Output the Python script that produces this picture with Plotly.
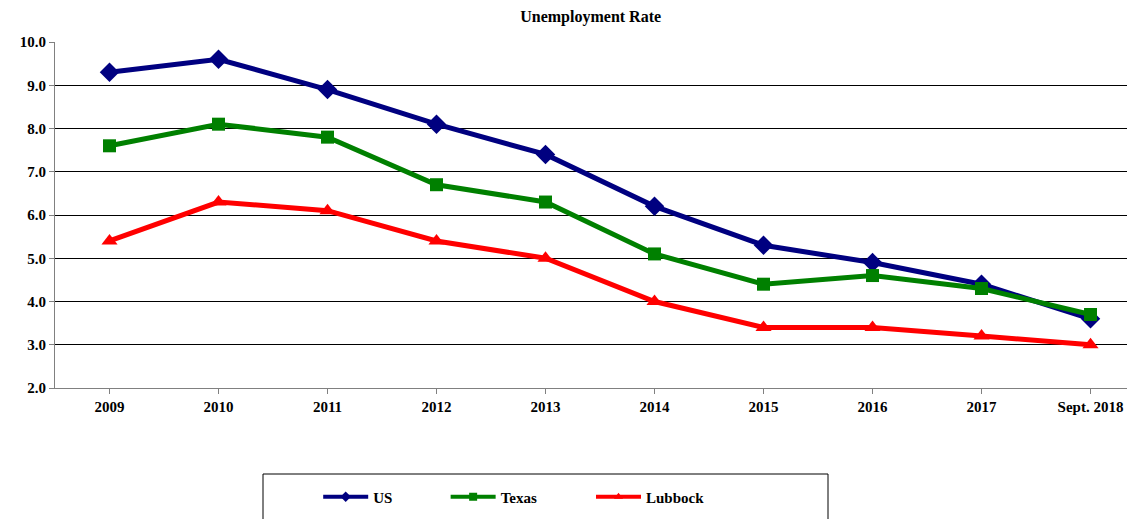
import plotly.graph_objects as go

# Chart data
YEARS = ["2009", "2010", "2011", "2012", "2013", "2014", "2015", "2016", "2017", "Sept. 2018"]
US = [9.3, 9.6, 8.9, 8.1, 7.4, 6.2, 5.3, 4.9, 4.4, 3.6]
TEXAS = [7.6, 8.1, 7.8, 6.7, 6.3, 5.1, 4.4, 4.6, 4.3, 3.7]
LUBBOCK = [5.4, 6.3, 6.1, 5.4, 5.0, 4.0, 3.4, 3.4, 3.2, 3.0]

FONT = dict(family="Liberation Serif, Times New Roman, serif", size=15, color="#000000", weight="bold")

# name, values, colour, symbol, marker size, legend id, legend x (paper)
series = [
    ("US", US, "#000080", "diamond", 15, "legend", 0.2437),
    ("Texas", TEXAS, "#008000", "square", 13, "legend2", 0.3617),
    ("Lubbock", LUBBOCK, "#ff0000", "triangle-up", 14, "legend3", 0.4963),
]

fig = go.Figure()
legends = {}
for name, vals, color, symbol, size, leg, lx in series:
    fig.add_trace(go.Scatter(
        x=list(range(len(YEARS))),
        y=vals,
        name=name,
        mode="lines+markers",
        line=dict(color=color, width=5),
        marker=dict(color=color, symbol=symbol, size=size),
        showlegend=False,
    ))
    # small legend key, like the original chart's
    fig.add_trace(go.Scatter(
        x=[None], y=[None],
        name=name,
        mode="lines+markers",
        line=dict(color=color, width=4),
        marker=dict(color=color, symbol=symbol, size=8),
        legend=leg,
        showlegend=True,
    ))
    legends[leg] = dict(
        x=lx, xanchor="left",
        y=-0.315, yanchor="middle",
        font=dict(FONT, size=15),
        itemwidth=45,
        bgcolor="rgba(0,0,0,0)",
    )

fig.update_layout(
    width=1127,
    height=511,
    margin=dict(l=47, r=0, t=34, b=131),
    paper_bgcolor="white",
    plot_bgcolor="white",
    font=FONT,
    title=dict(text="Unemployment Rate", x=0.517, xanchor="center", y=0.984, yanchor="middle",
               font=dict(FONT, size=16)),
    **legends,
)

# legend frame
fig.add_shape(type="rect", xref="paper", yref="paper",
              x0=(263 - 55) / 1080, x1=(828 - 55) / 1080,
              y0=-0.45, y1=(388 - 474) / 346,
              line=dict(color="#000000", width=1), fillcolor="rgba(0,0,0,0)")

fig.update_xaxes(
    range=[-0.5, 9.408],
    tickvals=list(range(len(YEARS))),
    ticktext=YEARS,
    tickson="boundaries",
    ticks="outside",
    ticklen=5,
    tickcolor="#808080",
    showline=True,
    linecolor="#808080",
    linewidth=1,
    showgrid=False,
    zeroline=False,
    tickfont=FONT,
)
fig.update_yaxes(
    range=[2, 10],
    dtick=1,
    tickformat=".1f",
    ticks="outside",
    ticklen=5,
    tickcolor="#808080",
    showline=True,
    linecolor="#808080",
    linewidth=1,
    showgrid=True,
    gridcolor="#000000",
    gridwidth=1,
    zeroline=False,
    tickfont=FONT,
)

fig.write_html("out.html")
